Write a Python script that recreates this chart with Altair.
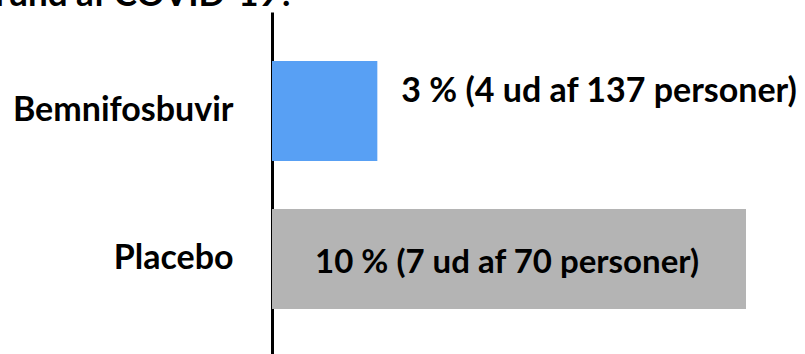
import altair as alt
import pandas as pd

groups = ["Bemnifosbuvir", "Placebo"]
pct = [3, 10]
labels = ["3 % (4 ud af 137 personer)", "10 % (7 ud af 70 personer)"]
colors = ["#58a0f4", "#b4b4b4"]
title_text = "Hvor mange personer blev indlagt på hospitalet på grund af COVID-19?"

df = pd.DataFrame({"group": groups, "pct": pct, "label": labels, "base": [1, 1]})

FONT = "Lato"

y_enc = alt.Y(
    "group:N",
    sort=groups,
    scale=alt.Scale(paddingInner=0.324, paddingOuter=0.331),
    axis=alt.Axis(
        title=None, ticks=False, grid=False, domainColor="black", domainWidth=3,
        labelFont=FONT, labelFontSize=34, labelFontWeight="bold", labelColor="black",
        labelPadding=39, labelLimit=400, labelBaseline="middle",
    ),
)
x_scale = alt.Scale(domain=[1, 10], nice=False, zero=False)

base = alt.Chart(df)

bars = base.mark_bar().encode(
    y=y_enc,
    x=alt.X("pct:Q", scale=x_scale, axis=None),
    x2="base:Q",
    color=alt.Color("group:N", scale=alt.Scale(domain=groups, range=colors), legend=None),
)

outside = base.transform_filter(alt.datum.group == "Bemnifosbuvir").mark_text(
    align="left", baseline="middle", dx=24, dy=-19,
    font=FONT, fontSize=34, fontWeight="bold", color="black",
).encode(
    y=alt.Y("group:N", sort=groups),
    x=alt.X("pct:Q", scale=x_scale),
    text="label:N",
)

inside = base.transform_filter(alt.datum.group == "Placebo").transform_calculate(
    mid="(datum.pct + datum.base) / 2"
).mark_text(
    align="center", baseline="middle", dx=-2, dy=4,
    font=FONT, fontSize=33, fontWeight="bold", color="black",
).encode(
    y=alt.Y("group:N", sort=groups),
    x=alt.X("mid:Q", scale=x_scale),
    text="label:N",
)

chart = alt.layer(bars, outside, inside).properties(
    width=474,
    height=346,
    background="white",
    title=alt.TitleParams(
        text=title_text, anchor="end", frame="group", dx=-451, dy=1, offset=0,
        font=FONT, fontSize=35, fontWeight="bold", color="black",
    ),
    autosize=alt.AutoSizeParams(type="none"),
    padding={"left": 272, "top": 12, "right": 59, "bottom": 0},
).configure_view(stroke=None, strokeWidth=0)

chart.save("out.html", embed_options={"renderer": "svg", "actions": False})
